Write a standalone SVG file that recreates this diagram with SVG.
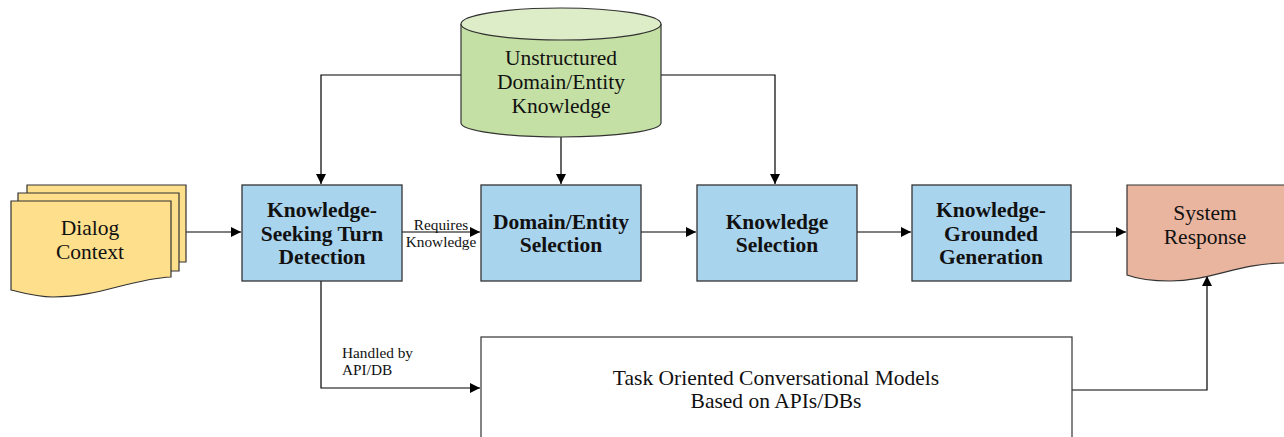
<svg xmlns="http://www.w3.org/2000/svg" width="1284" height="437" viewBox="0 0 1284 437">
<style>
.t{font-family:"Liberation Serif","Times New Roman",serif;font-size:21.5px;fill:#111;text-anchor:middle}
.b{font-weight:bold}
.s{font-family:"Liberation Serif","Times New Roman",serif;font-size:15.3px;fill:#111}
.box{fill:#a9d4ee;stroke:#333;stroke-width:1.3}
.doc{fill:#fedf8c;stroke:#333;stroke-width:1.2}
.ln{fill:none;stroke:#000;stroke-width:1.2}
</style>
<defs>
<marker id="ah" viewBox="0 0 10 10" refX="10" refY="5" markerWidth="10" markerHeight="10" markerUnits="userSpaceOnUse" orient="auto">
<path d="M0,0 L10,5 L0,10 z" fill="#000"/>
</marker>
</defs>
<g id="connectors">
<path class="ln" d="M186,232 H241" marker-end="url(#ah)"/>
<path class="ln" d="M402,232 H480" marker-end="url(#ah)"/>
<path class="ln" d="M641,232 H696" marker-end="url(#ah)"/>
<path class="ln" d="M857,232 H911" marker-end="url(#ah)"/>
<path class="ln" d="M1071,232 H1126" marker-end="url(#ah)"/>
<path class="ln" d="M461,75 H321 V184" marker-end="url(#ah)"/>
<path class="ln" d="M661,75 H775 V184" marker-end="url(#ah)"/>
<path class="ln" d="M561,137 V184" marker-end="url(#ah)"/>
<path class="ln" d="M321,281 V388 H480" marker-end="url(#ah)"/>
<path class="ln" d="M1072,390 H1207 V276" marker-end="url(#ah)"/>
<text class="s" x="441" y="230" text-anchor="middle">Requires</text>
<text class="s" x="441" y="247" text-anchor="middle">Knowledge</text>
<text class="s" x="342" y="358">Handled by</text>
<text class="s" x="342" y="375">API/DB</text>
</g>
<g id="dialog-context">
<path class="doc" d="M27,185 H186 V262 H27 z"/>
<path class="doc" d="M18,193 H179 V271 H18 z"/>
<path class="doc" d="M11,201 H171 V277 C130,279 100,297 53,297 C35,297 20,292 11,290 z"/>
<text class="t" x="90" y="235">Dialog</text>
<text class="t" x="90" y="259">Context</text>
</g>
<g id="knowledge-source">
<path d="M461,24 V123 A100,14 0 0 0 661,123 V24" fill="#c5e0a4" stroke="#333" stroke-width="1.2"/>
<ellipse cx="561" cy="24" rx="100" ry="16" fill="#dcedc8" stroke="#333" stroke-width="1.2"/>
<text class="t" x="561" y="65">Unstructured</text>
<text class="t" x="561" y="89">Domain/Entity</text>
<text class="t" x="561" y="113">Knowledge</text>
</g>
<g id="turn-detection">
<rect class="box" x="242" y="185" width="160" height="96"/>
<text class="t b" x="322" y="217">Knowledge-</text>
<text class="t b" x="322" y="241">Seeking Turn</text>
<text class="t b" x="322" y="264">Detection</text>
</g>
<g id="domain-selection">
<rect class="box" x="481" y="185" width="160" height="96"/>
<text class="t b" x="561" y="229">Domain/Entity</text>
<text class="t b" x="561" y="252">Selection</text>
</g>
<g id="knowledge-selection">
<rect class="box" x="697" y="185" width="160" height="96"/>
<text class="t b" x="777" y="229">Knowledge</text>
<text class="t b" x="777" y="252">Selection</text>
</g>
<g id="generation">
<rect class="box" x="912" y="185" width="159" height="96"/>
<text class="t b" x="991" y="217">Knowledge-</text>
<text class="t b" x="991" y="241">Grounded</text>
<text class="t b" x="991" y="264">Generation</text>
</g>
<g id="system-response">
<path d="M1127,185 H1285 V263 C1240,263 1210,281 1170,281 C1150,281 1135,278 1127,275 z" fill="#eab59f" stroke="#333" stroke-width="1.2"/>
<text class="t" x="1205" y="220">System</text>
<text class="t" x="1205" y="244">Response</text>
</g>
<g id="task-oriented">
<rect x="481" y="337" width="591" height="110" fill="#fff" stroke="#333" stroke-width="1.2"/>
<text class="t" x="776" y="385">Task Oriented Conversational Models</text>
<text class="t" x="776" y="408">Based on APIs/DBs</text>
</g>
</svg>
